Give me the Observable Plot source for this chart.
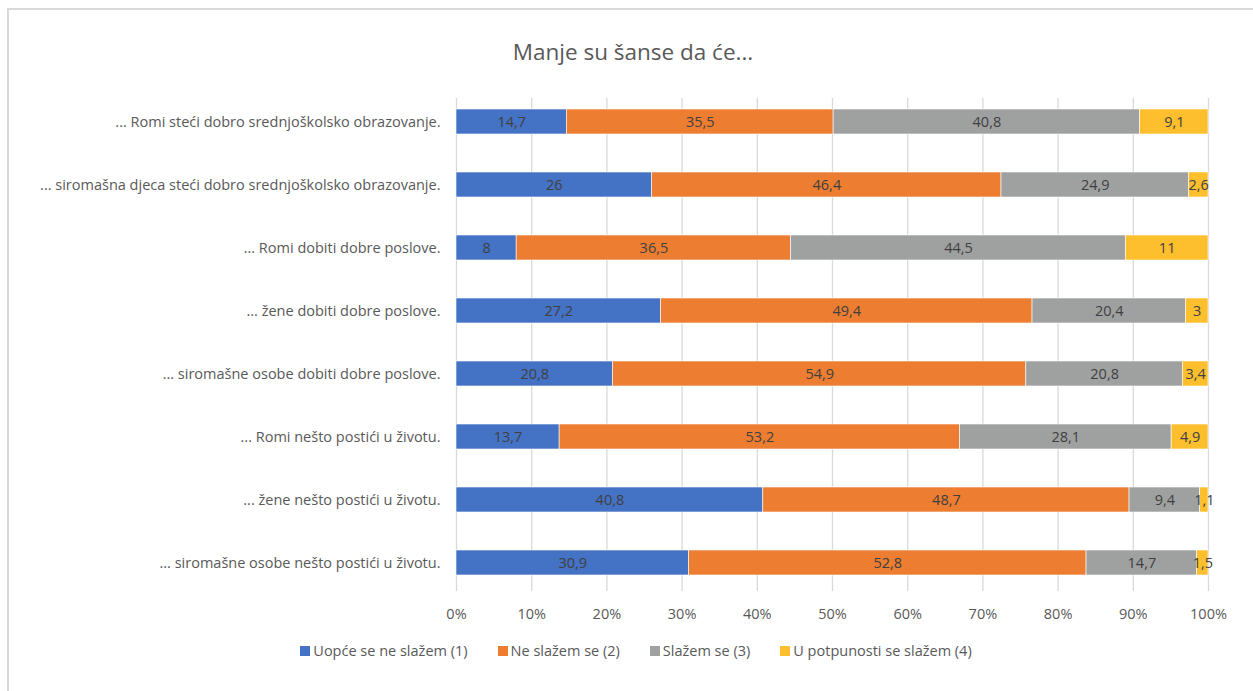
<!DOCTYPE html>
<html>
<head>
<meta charset="utf-8">
<script src="https://cdn.jsdelivr.net/npm/d3@7"></script>
<script src="https://cdn.jsdelivr.net/npm/@observablehq/plot@0.6"></script>
<style>
  html, body { margin: 0; padding: 0; background: #fff; }
  #frame {
    position: absolute; left: 7px; top: 8px; width: 1260px; height: 700px;
    border-top: 2px solid #d9d9d9; border-left: 2px solid #d9d9d9;
    box-sizing: border-box;
  }
  #wrap { position: relative; width: 1253px; height: 691px; font-family: "Open Sans", Lato, sans-serif; }
  #title {
    position: absolute; left: 0; width: 1266px; top: 37px; text-align: center;
    font-size: 22.5px; color: #595959; line-height: 30px;
  }
  #chart { position: absolute; left: 0; top: 88px; }
  #legend {
    position: absolute; left: 0; width: 1272px; top: 641px;
    display: flex; justify-content: center; gap: 30px;
    font-size: 14.5px; color: #595959; line-height: 20px;
  }
  #legend .item { display: flex; align-items: center; }
  #legend .sw { width: 10px; height: 10px; margin-right: 3px; display: inline-block; }
</style>
</head>
<body>
<div id="wrap">
  <div id="frame"></div>
  <div id="title">Manje su šanse da će...</div>
  <div id="chart"></div>
  <div id="legend"></div>
</div>
<script>
const categories = [
  "... Romi steći dobro srednjoškolsko obrazovanje.",
  "... siromašna djeca steći dobro srednjoškolsko obrazovanje.",
  "... Romi dobiti dobre poslove.",
  "... žene dobiti dobre poslove.",
  "... siromašne osobe dobiti dobre poslove.",
  "... Romi nešto postići u životu.",
  "... žene nešto postići u životu.",
  "... siromašne osobe nešto postići u životu."
];
const seriesNames = [
  "Uopće se ne slažem (1)",
  "Ne slažem se (2)",
  "Slažem se (3)",
  "U potpunosti se slažem (4)"
];
const uopceSeNeSlazem = [14.7, 26, 8, 27.2, 20.8, 13.7, 40.8, 30.9];
const neSlazemSe      = [35.5, 46.4, 36.5, 49.4, 54.9, 53.2, 48.7, 52.8];
const slazemSe        = [40.8, 24.9, 44.5, 20.4, 20.8, 28.1, 9.4, 14.7];
const uPotpunosti     = [9.1, 2.6, 11, 3, 3.4, 4.9, 1.1, 1.5];
const xTicks = [0, 0.1, 0.2, 0.3, 0.4, 0.5, 0.6, 0.7, 0.8, 0.9, 1];
const colors = ["#4472C4", "#ED7D31", "#9FA1A1", "#FDBF2D"];

const seriesValues = [uopceSeNeSlazem, neSlazemSe, slazemSe, uPotpunosti];
const data = [];
categories.forEach((c, i) => {
  seriesNames.forEach((s, j) => {
    data.push({cat: c, series: s, value: seriesValues[j][i]});
  });
});
const fmt = v => String(v).replace(".", ",");

const stackOpts = {x: "value", y: "cat", z: "series", order: seriesNames, offset: "normalize"};

const plot = Plot.plot({
  width: 1253,
  height: 546,
  marginLeft: 456,
  marginRight: 45,
  marginTop: 2,
  marginBottom: 40,
  style: {fontFamily: "'Open Sans', Lato, sans-serif", fontSize: "14.5px", color: "#595959", background: "transparent"},
  x: {domain: [0, 1], ticks: xTicks, tickFormat: d => Math.round(d * 100) + "%", label: null},
  y: {domain: categories, label: null, padding: 0.6, paddingOuter: 0.3},
  color: {domain: seriesNames, range: colors},
  marks: [
    Plot.ruleX(xTicks, {x: d => d, stroke: "#d9d9d9", strokeWidth: 1.3, insetTop: 8, insetBottom: 3}),
    Plot.barX(data, Plot.stackX({...stackOpts, fill: "series", stroke: "white", strokeWidth: 0.6})),
    Plot.text(data, Plot.stackX({...stackOpts, text: d => fmt(d.value), fill: "#404040", fontSize: 14.5})),
    Plot.axisX({ticks: xTicks, tickFormat: d => Math.round(d * 100) + "%", tickSize: 0, tickPadding: 14, fontSize: 14.5, fill: "#595959", label: null}),
    Plot.axisY({tickSize: 0, tickPadding: 16, fontSize: 14.5, fill: "#595959", label: null})
  ]
});
document.getElementById("chart").appendChild(plot);

const legend = document.getElementById("legend");
seriesNames.forEach((s, j) => {
  const it = document.createElement("div");
  it.className = "item";
  const sw = document.createElement("span");
  sw.className = "sw";
  sw.style.background = colors[j];
  it.appendChild(sw);
  it.appendChild(document.createTextNode(s));
  legend.appendChild(it);
});
</script>
</body>
</html>
